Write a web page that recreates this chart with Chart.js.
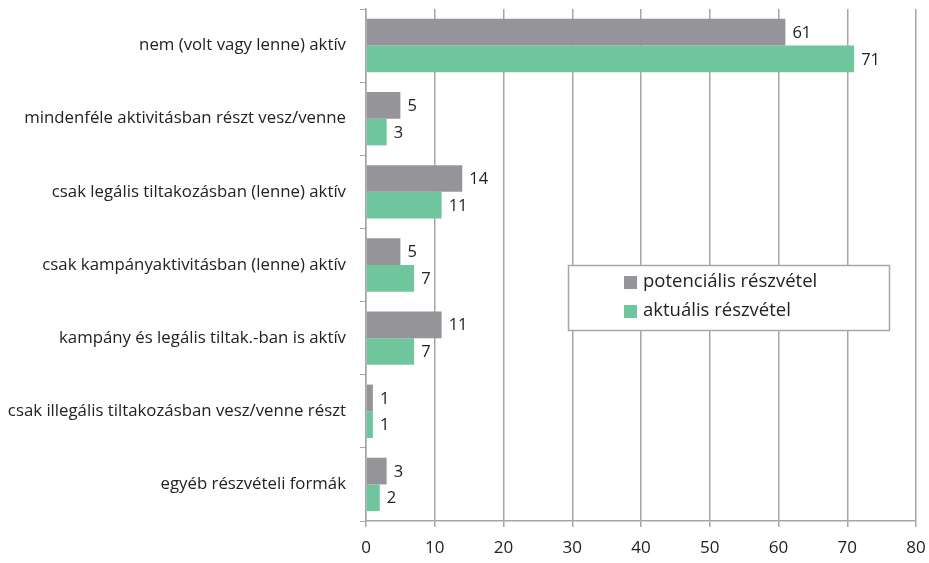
<!DOCTYPE html>
<html>
<head>
<meta charset="utf-8">
<script src="https://cdn.jsdelivr.net/npm/chart.js@4.4.1/dist/chart.umd.min.js"></script>
<style>
  html, body { margin: 0; padding: 0; background: #fff; }
  #wrap { width: 929px; height: 563px; }
</style>
</head>
<body>
<div id="wrap"><canvas id="chart"></canvas></div>
<script>
// categories (top to bottom)
const categories = [
  "nem (volt vagy lenne) aktív",
  "mindenféle aktivitásban részt vesz/venne",
  "csak legális tiltakozásban (lenne) aktív",
  "csak kampányaktivitásban (lenne) aktív",
  "kampány és legális tiltak.-ban is aktív",
  "csak illegális tiltakozásban vesz/venne részt",
  "egyéb részvételi formák"
];
const potencialis = [61, 5, 14, 5, 11, 1, 3];
const aktualis = [71, 3, 11, 7, 7, 1, 2];
const xTicks = [0, 10, 20, 30, 40, 50, 60, 70, 80];

const FONT = "'Open Sans', Lato, sans-serif";
const GRID = "#a6a6a6";

/* value labels at bar ends */
const barLabels = {
  id: "barLabels",
  afterDatasetsDraw(chart) {
    const ctx = chart.ctx;
    ctx.save();
    ctx.font = "16.5px " + FONT;
    ctx.fillStyle = "#222";
    ctx.textBaseline = "middle";
    chart.data.datasets.forEach((ds, i) => {
      chart.getDatasetMeta(i).data.forEach((bar, j) => {
        ctx.fillText(ds.data[j], bar.x + 7, bar.y + 1);
      });
    });
    ctx.restore();
  }
};

/* boxed legend inside the plot */
const boxLegend = {
  id: "boxLegend",
  afterDraw(chart) {
    const ctx = chart.ctx;
    const x = 568, y = 265, w = 321, h = 65;
    ctx.save();
    ctx.fillStyle = "#fff";
    ctx.fillRect(x, y, w, h);
    ctx.strokeStyle = GRID;
    ctx.lineWidth = 1.5;
    ctx.strokeRect(x + 0.5, y + 0.5, w, h);
    ctx.font = "18.5px " + FONT;
    ctx.textBaseline = "middle";
    chart.data.datasets.forEach((ds, i) => {
      const cy = y + 17 + i * 29;
      ctx.fillStyle = ds.backgroundColor;
      ctx.fillRect(x + 56, cy - 6, 13, 13);
      ctx.fillStyle = "#222";
      ctx.fillText(ds.label, x + 75, cy);
    });
    ctx.restore();
  }
};

new Chart(document.getElementById("chart"), {
  type: "bar",
  data: {
    labels: categories,
    datasets: [
      {
        label: "potenciális részvétel",
        data: potencialis,
        backgroundColor: "#949499",
        categoryPercentage: 0.73,
        barPercentage: 1
      },
      {
        label: "aktuális részvétel",
        data: aktualis,
        backgroundColor: "#70c69c",
        categoryPercentage: 0.73,
        barPercentage: 1
      }
    ]
  },
  options: {
    indexAxis: "y",
    responsive: true,
    maintainAspectRatio: false,
    animation: false,
    layout: { padding: { top: 9, right: 13, bottom: 0, left: 0 } },
    plugins: {
      legend: { display: false },
      tooltip: { enabled: false }
    },
    scales: {
      x: {
        min: 0,
        max: 80,
        afterBuildTicks: s => { s.ticks = xTicks.map(v => ({ value: v })); },
        afterFit: s => { s.height = 42; s.paddingLeft = 0; s.paddingRight = 0; },
        grid: { color: GRID, lineWidth: 1.5, tickLength: 6 },
        border: { color: GRID, width: 1.5 },
        ticks: { color: "#222", padding: 11, font: { family: FONT, size: 17 } }
      },
      y: {
        afterFit: s => { s.width = 366; s.paddingTop = 0; s.paddingBottom = 0; },
        grid: { display: true, drawOnChartArea: false, offset: true, color: GRID, tickLength: 6 },
        border: { color: GRID, width: 1.5 },
        ticks: { color: "#222", padding: 14, font: { family: FONT, size: 16.8 } }
      }
    }
  },
  plugins: [barLabels, boxLegend]
});
</script>
</body>
</html>
